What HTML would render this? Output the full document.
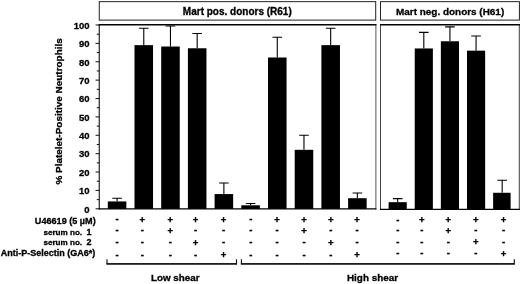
<!DOCTYPE html>
<html><head><meta charset="utf-8"><title>Platelet-Positive Neutrophils</title>
<style>html,body{margin:0;padding:0;background:#fff}svg{display:block}text{font-family:"Liberation Sans",sans-serif;font-weight:bold;fill:#000}</style></head><body>
<svg width="520" height="284" viewBox="0 0 520 284">
<rect width="520" height="284" fill="#fff"/>
<g fill="none" stroke="#222" stroke-width="1">
<rect x="99.25" y="1.65" width="276.45" height="18.450000000000003"/>
<rect x="380.5" y="1.65" width="138.89999999999998" height="18.450000000000003"/>
</g>
<g fill="none" stroke="#000">
<path d="M99.25 24.05V209.55" stroke="#111" stroke-width="1.1"/>
<path d="M375.9 24.05V209.55" stroke="#555" stroke-width="1"/>
<path d="M380.5 24.05V210.0" stroke="#444" stroke-width="1"/>
<path d="M519.4 24.05V210.0" stroke="#666" stroke-width="1.3"/>
<path d="M98.7 24.75H376.4M380.0 24.75H520" stroke-width="1.4"/>
<path d="M98.7 208.9H376.4" stroke-width="1.3"/>
<path d="M380.0 209.35H520" stroke-width="1.3"/>
</g>
<g stroke="#111" stroke-width="1">
<line x1="95.55" y1="208.80" x2="99.25" y2="208.80"/>
<line x1="96.75" y1="199.61" x2="99.25" y2="199.61"/>
<line x1="95.55" y1="190.42" x2="99.25" y2="190.42"/>
<line x1="96.75" y1="181.23" x2="99.25" y2="181.23"/>
<line x1="95.55" y1="172.04" x2="99.25" y2="172.04"/>
<line x1="96.75" y1="162.85" x2="99.25" y2="162.85"/>
<line x1="95.55" y1="153.66" x2="99.25" y2="153.66"/>
<line x1="96.75" y1="144.47" x2="99.25" y2="144.47"/>
<line x1="95.55" y1="135.28" x2="99.25" y2="135.28"/>
<line x1="96.75" y1="126.09" x2="99.25" y2="126.09"/>
<line x1="95.55" y1="116.90" x2="99.25" y2="116.90"/>
<line x1="96.75" y1="107.71" x2="99.25" y2="107.71"/>
<line x1="95.55" y1="98.52" x2="99.25" y2="98.52"/>
<line x1="96.75" y1="89.33" x2="99.25" y2="89.33"/>
<line x1="95.55" y1="80.14" x2="99.25" y2="80.14"/>
<line x1="96.75" y1="70.95" x2="99.25" y2="70.95"/>
<line x1="95.55" y1="61.76" x2="99.25" y2="61.76"/>
<line x1="96.75" y1="52.57" x2="99.25" y2="52.57"/>
<line x1="95.55" y1="43.38" x2="99.25" y2="43.38"/>
<line x1="96.75" y1="34.19" x2="99.25" y2="34.19"/>
<line x1="95.55" y1="25.00" x2="99.25" y2="25.00"/>
</g>
<g font-size="9.5" text-anchor="end" stroke="#000" stroke-width="0.3">
<text x="89.6" y="212.55">0</text>
<text x="89.6" y="194.17">10</text>
<text x="89.6" y="175.79">20</text>
<text x="89.6" y="157.41">30</text>
<text x="89.6" y="139.03">40</text>
<text x="89.6" y="120.65">50</text>
<text x="89.6" y="102.27">60</text>
<text x="89.6" y="83.89">70</text>
<text x="89.6" y="65.51">80</text>
<text x="89.6" y="47.13">90</text>
<text x="89.6" y="28.75">100</text>
</g>
<text font-size="9.95" stroke="#000" stroke-width="0.3" text-anchor="middle" transform="translate(61.55,111.4) rotate(-90)">% Platelet-Positive Neutrophils</text>
<g stroke="#000" stroke-width="0.3">
<text font-size="10" text-anchor="middle" x="237.3" y="14.55">Mart pos. donors (R61)</text>
<text font-size="9.95" text-anchor="middle" x="450.1" y="14.55">Mart neg. donors (H61)</text>
</g>
<rect x="107.80" y="201.43" width="18.55" height="7.47" fill="#000"/>
<path d="M117.08 201.43V198.20M112.28 198.20H121.88" stroke="#000" stroke-width="1.1" fill="none"/>
<rect x="134.50" y="45.14" width="18.55" height="163.76" fill="#000"/>
<path d="M143.78 45.14V28.19M138.97 28.19H148.58" stroke="#000" stroke-width="1.1" fill="none"/>
<rect x="161.20" y="46.52" width="18.55" height="162.38" fill="#000"/>
<path d="M170.47 46.52V25.97M165.67 25.97H175.28" stroke="#000" stroke-width="1.1" fill="none"/>
<rect x="187.90" y="48.27" width="18.55" height="160.63" fill="#000"/>
<path d="M197.17 48.27V33.53M192.37 33.53H201.97" stroke="#000" stroke-width="1.1" fill="none"/>
<rect x="214.60" y="194.06" width="18.55" height="14.84" fill="#000"/>
<path d="M223.88 194.06V183.00M219.07 183.00H228.68" stroke="#000" stroke-width="1.1" fill="none"/>
<rect x="241.30" y="205.30" width="18.55" height="3.60" fill="#000"/>
<path d="M250.58 205.30V203.46M245.78 203.46H255.38" stroke="#000" stroke-width="1.1" fill="none"/>
<rect x="268.00" y="57.49" width="18.55" height="151.41" fill="#000"/>
<path d="M277.27 57.49V37.31M272.47 37.31H282.07" stroke="#000" stroke-width="1.1" fill="none"/>
<rect x="294.70" y="149.82" width="18.55" height="59.08" fill="#000"/>
<path d="M303.97 149.82V135.26M299.17 135.26H308.77" stroke="#000" stroke-width="1.1" fill="none"/>
<rect x="321.40" y="45.14" width="18.55" height="163.76" fill="#000"/>
<path d="M330.67 45.14V28.19M325.87 28.19H335.47" stroke="#000" stroke-width="1.1" fill="none"/>
<rect x="348.10" y="198.20" width="18.55" height="10.70" fill="#000"/>
<path d="M357.37 198.20V192.95M352.57 192.95H362.17" stroke="#000" stroke-width="1.1" fill="none"/>
<rect x="388.60" y="202.17" width="18.15" height="7.18" fill="#000"/>
<path d="M397.68 202.17V198.66M392.88 198.66H402.48" stroke="#000" stroke-width="1.1" fill="none"/>
<rect x="414.73" y="48.46" width="18.15" height="160.89" fill="#000"/>
<path d="M423.81 48.46V32.42M419.00 32.42H428.61" stroke="#000" stroke-width="1.1" fill="none"/>
<rect x="440.86" y="41.27" width="18.15" height="168.08" fill="#000"/>
<path d="M449.94 41.27V26.90M445.13 26.90H454.74" stroke="#000" stroke-width="1.1" fill="none"/>
<rect x="466.99" y="50.67" width="18.15" height="158.68" fill="#000"/>
<path d="M476.06 50.67V35.93M471.26 35.93H480.87" stroke="#000" stroke-width="1.1" fill="none"/>
<rect x="493.12" y="192.77" width="17.5" height="16.58" fill="#000"/>
<path d="M502.19 192.77V180.23M497.39 180.23H507.00" stroke="#000" stroke-width="1.1" fill="none"/>
<g font-size="9" text-anchor="end" stroke="#000" stroke-width="0.3">
<text x="95.7" y="224.3" font-size="9.1">U46619 (5 µM)</text>
<text x="82.1" y="234.8" font-size="8.1">serum no.</text><text x="91.5" y="234.8">1</text>
<text x="82.1" y="245.3" font-size="8.1">serum no.</text><text x="91.5" y="245.3">2</text>
<text x="95.2" y="256.2">Anti-P-Selectin (GA6*)</text>
</g>
<g font-size="9.5" text-anchor="middle" stroke="#000" stroke-width="0.35">
<text x="117.10" y="222.44">-</text>
<text x="142.20" y="222.82">+</text>
<text x="170.30" y="222.82">+</text>
<text x="195.50" y="222.82">+</text>
<text x="223.60" y="222.82">+</text>
<text x="250.75" y="222.44">-</text>
<text x="277.05" y="222.82">+</text>
<text x="304.00" y="222.82">+</text>
<text x="330.70" y="222.82">+</text>
<text x="357.05" y="222.82">+</text>
<text x="117.10" y="233.34">-</text>
<text x="142.25" y="233.34">-</text>
<text x="170.30" y="233.72">+</text>
<text x="195.55" y="233.34">-</text>
<text x="223.65" y="233.34">-</text>
<text x="250.75" y="233.34">-</text>
<text x="277.10" y="233.34">-</text>
<text x="304.00" y="233.72">+</text>
<text x="330.75" y="233.34">-</text>
<text x="357.10" y="233.34">-</text>
<text x="117.10" y="245.14">-</text>
<text x="142.25" y="245.14">-</text>
<text x="170.35" y="245.14">-</text>
<text x="195.50" y="245.52">+</text>
<text x="223.65" y="245.14">-</text>
<text x="250.75" y="245.14">-</text>
<text x="277.10" y="245.14">-</text>
<text x="304.05" y="245.14">-</text>
<text x="330.70" y="245.52">+</text>
<text x="357.10" y="245.14">-</text>
<text x="117.10" y="257.54">-</text>
<text x="142.25" y="257.54">-</text>
<text x="170.35" y="257.54">-</text>
<text x="195.55" y="257.54">-</text>
<text x="223.60" y="257.92">+</text>
<text x="250.75" y="257.54">-</text>
<text x="277.10" y="257.54">-</text>
<text x="304.05" y="257.54">-</text>
<text x="330.75" y="257.54">-</text>
<text x="357.05" y="257.92">+</text>
<text x="397.80" y="222.64">-</text>
<text x="421.70" y="223.02">+</text>
<text x="448.40" y="223.02">+</text>
<text x="475.90" y="223.02">+</text>
<text x="503.60" y="223.02">+</text>
<text x="397.80" y="233.34">-</text>
<text x="421.75" y="233.34">-</text>
<text x="448.40" y="233.72">+</text>
<text x="475.95" y="233.34">-</text>
<text x="503.65" y="233.34">-</text>
<text x="397.80" y="244.74">-</text>
<text x="421.75" y="244.74">-</text>
<text x="448.45" y="244.74">-</text>
<text x="475.90" y="245.12">+</text>
<text x="503.65" y="244.74">-</text>
<text x="397.80" y="256.14">-</text>
<text x="421.75" y="256.14">-</text>
<text x="448.45" y="256.14">-</text>
<text x="475.95" y="256.14">-</text>
<text x="503.60" y="256.52">+</text>
</g>
<g fill="none" stroke="#111" stroke-width="1.4">
<path d="M107 259.3V263.9H236.5V259.3" stroke-width="1.1"/>
<path d="M241.4 259.3V263.9H514.3V259.3" stroke-width="1.1"/>
<path d="M106.45 263.9H237.05M240.85 263.9H514.85"/>
</g>
<g stroke="#000" stroke-width="0.3">
<text font-size="9.85" text-anchor="middle" x="175.3" y="281.3">Low shear</text>
<text font-size="9.9" text-anchor="middle" x="372.5" y="281.1">High shear</text>
</g>
</svg></body></html>
